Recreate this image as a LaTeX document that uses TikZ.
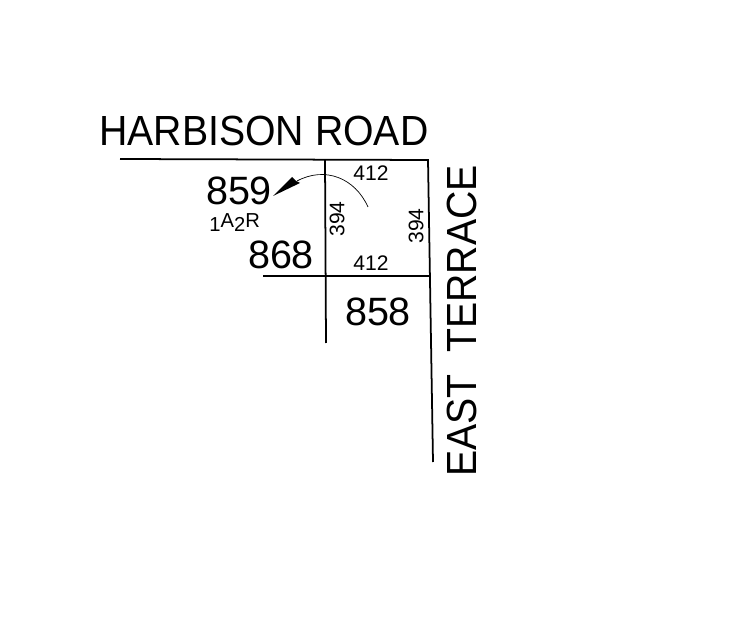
\documentclass[tikz,border=0pt]{standalone}
\usepackage{fontspec}
\setmainfont{Liberation Sans}
\usetikzlibrary{calc,arrows.meta}
\tikzset{
  boundary/.style={draw=black, line width=1pt},
  roadname/.style={inner sep=0pt, font=\fontsize{24}{24}\selectfont},
  allotment/.style={inner sep=0pt, font=\fontsize{22.5}{23}\selectfont},
  dimension/.style={inner sep=0pt, font=\fontsize{12}{12}\selectfont},
  areatext/.style={inner sep=0pt, font=\fontsize{11.5}{12}\selectfont},
}
\begin{document}
\begin{tikzpicture}[x=0.02cm, y=-0.02cm]
\useasboundingbox[fill=white] (0,0) rectangle (750,634);
% road frontages
\coordinate (roadW) at (120,159);
\coordinate (roadE) at (428,160);
\coordinate (eastS) at (433,462);
\draw [boundary] (roadW) -- (roadE) -- (eastS);
% inner boundaries
\coordinate (innerN) at (325,160);
\coordinate (innerS) at (326,343);
\coordinate (crossW) at (263,276);
\coordinate (crossE) at (429,276);
\draw [boundary] (innerN) -- (innerS);
\draw [boundary] (crossW) -- (crossE);
% pointer
\coordinate (ptrStart) at (368,207);
\coordinate (ptrTip) at (273,196);
\draw [line width=0.4pt] (ptrStart) .. controls (355,178) and (325,166) .. (297,181);
\fill (ptrTip) -- (292,177) -- (296,181) -- (300,183) -- cycle;
% labels
\node [roadname, anchor=base west] (harbison) at (99,146) {\scalebox{0.93}[1]{HARBISON ROAD}};
\node [roadname, anchor=base west, rotate=90] (east) at (476,477) {\scalebox{0.93}[1]{EAST\ \ TERRACE}};
\node [allotment] (lot859) at (239,191) {859};
\node [allotment] (lot868) at (281,255) {868};
\node [allotment] (lot858) at (378,312) {858};
\node [areatext, anchor=base west] (area) at (209,232) {1\raisebox{0.45ex}{A}2\raisebox{0.45ex}{R}};
\node [dimension] (dimTop) at (371,173) {412};
\node [dimension] (dimBottom) at (371,263) {412};
\node [dimension, rotate=90] (dimLeft) at (337,219) {394};
\node [dimension, rotate=90] (dimRight) at (416,226) {394};
\end{tikzpicture}
\end{document}
